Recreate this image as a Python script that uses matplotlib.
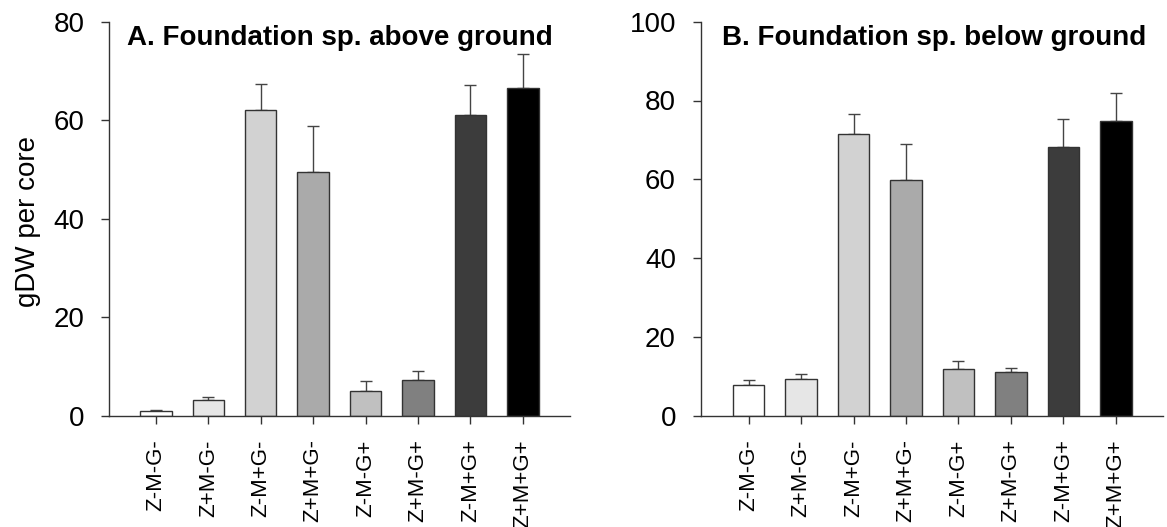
import matplotlib
matplotlib.use("Agg")
import matplotlib.pyplot as plt
import numpy as np

plt.rcParams['font.family'] = ['Liberation Sans', 'DejaVu Sans']

categories = ["Z-M-G-", "Z+M-G-", "Z-M+G-", "Z+M+G-", "Z-M-G+", "Z+M-G+", "Z-M+G+", "Z+M+G+"]
above_mean = [0.9, 3.2, 62.1, 49.4, 5.1, 7.2, 61.0, 66.5]
above_err = [0.3, 0.5, 5.3, 9.4, 2.0, 1.8, 6.2, 7.0]
below_mean = [7.7, 9.4, 71.6, 59.7, 11.8, 11.0, 68.1, 74.9]
below_err = [1.3, 1.1, 5.0, 9.3, 2.1, 1.0, 7.2, 7.0]
bar_colors = ["#ffffff", "#e6e6e6", "#d2d2d2", "#aaaaaa", "#c0c0c0", "#808080", "#3c3c3c", "#000000"]
titles = ["A. Foundation sp. above ground", "B. Foundation sp. below ground"]

W, H = 1167, 527
fig = plt.figure(figsize=(W / 100, H / 100), dpi=100)

def px_axes(left, right, top, bottom):
    return fig.add_axes([left / W, 1 - bottom / H, (right - left) / W, (bottom - top) / H])

axA = px_axes(109.3, 570, 21.7, 415.7)
axB = px_axes(701, 1163, 21.7, 415.7)

edge = "#333333"
x = np.arange(1, len(categories) + 1)

def draw(ax, means, errs, ymax, yticks, xleft):
    ax.bar(x, means, width=0.6, color=bar_colors, edgecolor=edge, linewidth=1.0, zorder=2)
    ax.errorbar(x, means, yerr=[np.zeros(len(errs)), errs], fmt='none', ecolor="#444444",
                elinewidth=1.0, capsize=4.3, capthick=1.0, zorder=1)
    ax.set_xlim(xleft, 8.9)
    ax.set_ylim(0, ymax)
    ax.set_yticks(yticks)
    ax.set_xticks(x)
    ax.set_xticklabels(categories, rotation=90, fontsize=16)
    ax.tick_params(axis='y', labelsize=20, length=6, width=1.0, color=edge, pad=12, direction='out')
    ax.tick_params(axis='x', length=6, width=1.0, color=edge, pad=11, direction='out')
    for s in ['top', 'right']:
        ax.spines[s].set_visible(False)
    for s in ['left', 'bottom']:
        ax.spines[s].set_color(edge)
        ax.spines[s].set_linewidth(1.0)

draw(axA, above_mean, above_err, 80, [0, 20, 40, 60, 80], 0.11)
draw(axB, below_mean, below_err, 100, [0, 20, 40, 60, 80, 100], 0.09)

fig.text(126.7 / W, 1 - 45 / H, titles[0], fontsize=20, fontweight='bold', ha='left', va='baseline')
fig.text(721.7 / W, 1 - 45 / H, titles[1], fontsize=20, fontweight='bold', ha='left', va='baseline')
fig.text(28 / W, 1 - 221 / H, "gDW per core", fontsize=20, rotation=90, ha='center', va='center')

fig.savefig("out.png", dpi=100)
